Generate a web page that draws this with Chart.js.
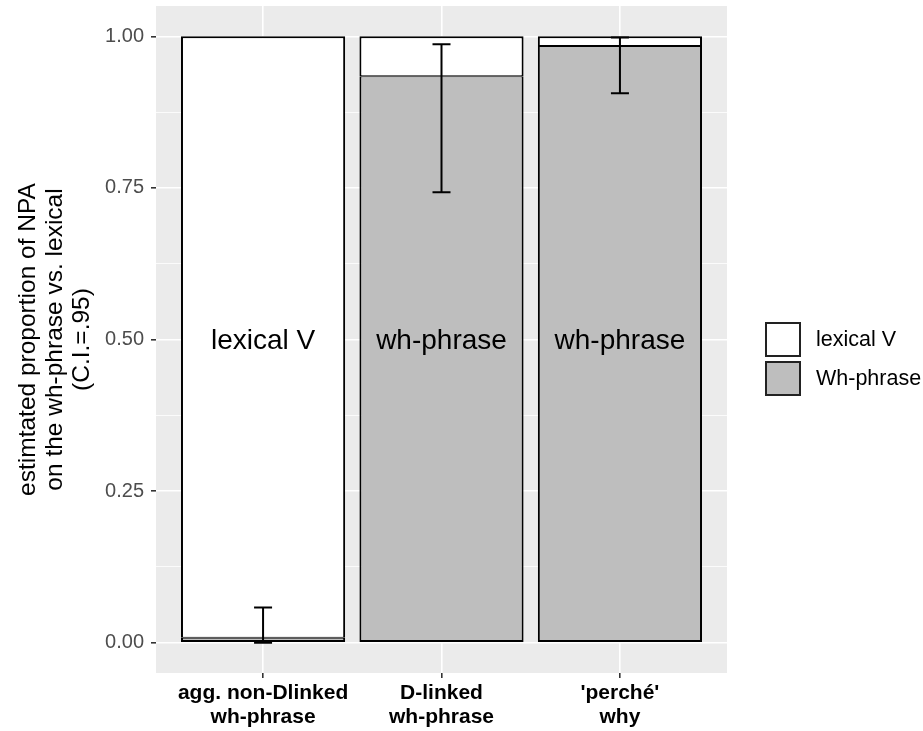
<!DOCTYPE html>
<html>
<head>
<meta charset="utf-8">
<script src="https://cdn.jsdelivr.net/npm/chart.js@4"></script>
<style>
  html, body { margin: 0; padding: 0; background: #fff; }
</style>
</head>
<body>
<canvas id="mychart" width="923" height="731"></canvas>
<script>
'use strict';

// categories on the x axis (multi-line labels)
const categories = [['agg. non-Dlinked', 'wh-phrase'], ['D-linked', 'wh-phrase'], ["'perché'", 'why']];
// estimated proportions, stacked
const whPhrase = [0.008, 0.934, 0.984];
const lexicalV = [0.992, 0.066, 0.016];
// confidence intervals of the wh-phrase proportion
const ciLow = [0.0, 0.743, 0.906];
const ciHigh = [0.058, 0.987, 0.998];
// text written in the middle of each bar
const barText = ['lexical V', 'wh-phrase', 'wh-phrase'];
// y ticks
const yMajor = [0, 0.25, 0.5, 0.75, 1];
const yMajorLabels = ['0.00', '0.25', '0.50', '0.75', '1.00'];
const yMinor = [0.125, 0.375, 0.625, 0.875];

const seriesNames = ['lexical V', 'Wh-phrase'];
const greyFill = '#bebebe';
const FONT = '"Liberation Sans", Arial, Helvetica, sans-serif';

const panelBg = {
    id: 'panelBg',
    beforeDraw(chart) {
        const a = chart.chartArea, ctx = chart.ctx;
        ctx.save();
        ctx.fillStyle = '#ebebeb';
        ctx.fillRect(a.left, a.top, a.right - a.left, a.bottom - a.top);
        ctx.restore();
    }
};

const extras = {
    id: 'extras',
    afterDatasetsDraw(chart) {
        const ctx = chart.ctx, xs = chart.scales.x, ys = chart.scales.y;
        ctx.save();
        // error bars
        ctx.strokeStyle = '#000';
        ctx.lineWidth = 2;
        categories.forEach((c, i) => {
            const x = xs.getPixelForValue(i + 1);
            const y0 = ys.getPixelForValue(ciLow[i]);
            const y1 = ys.getPixelForValue(ciHigh[i]);
            ctx.beginPath();
            ctx.moveTo(x, y0); ctx.lineTo(x, y1);
            ctx.moveTo(x - 9, y0); ctx.lineTo(x + 9, y0);
            ctx.moveTo(x - 9, y1); ctx.lineTo(x + 9, y1);
            ctx.stroke();
        });
        // bar text
        ctx.fillStyle = '#000';
        ctx.font = '28px ' + FONT;
        ctx.textAlign = 'center';
        ctx.textBaseline = 'middle';
        barText.forEach((t, i) => {
            ctx.fillText(t, xs.getPixelForValue(i + 1), ys.getPixelForValue(0.5) + 2);
        });
        // legend
        const lx = chart.chartArea.right + 38;
        const keys = [{ fill: '#fff', label: seriesNames[0] }, { fill: greyFill, label: seriesNames[1] }];
        ctx.textAlign = 'left';
        ctx.font = '21.5px ' + FONT;
        keys.forEach((k, i) => {
            const top = 322 + i * 39;
            ctx.fillStyle = k.fill;
            ctx.fillRect(lx, top, 36, 35);
            ctx.strokeStyle = '#222';
            ctx.lineWidth = 2;
            ctx.strokeRect(lx + 1, top + 1, 34, 33);
            ctx.fillStyle = '#000';
            ctx.fillText(k.label, lx + 51, top + 18);
        });
        ctx.restore();
    }
};

const $canvas = document.getElementById('mychart');
const graph = new Chart($canvas, {
    type: 'bar',
    data: {
        datasets: [{
            label: seriesNames[1],
            data: whPhrase.map((v, i) => ({ x: i + 1, y: v })),
            backgroundColor: greyFill,
            borderColor: '#000',
            borderWidth: { top: 1, bottom: 2, left: 2, right: 2 },
            borderSkipped: false,
        }, {
            label: seriesNames[0],
            data: lexicalV.map((v, i) => ({ x: i + 1, y: v })),
            backgroundColor: '#fff',
            borderColor: '#000',
            borderWidth: { top: 2, bottom: 1, left: 2, right: 2 },
            borderSkipped: false,
        }],
    },
    options: {
        responsive: false,
        animation: false,
        events: [],
        categoryPercentage: 0.92,
        barPercentage: 1,
        layout: { padding: { left: 0, right: 196, top: 6, bottom: 0 } },
        plugins: { legend: { display: false }, tooltip: { enabled: false } },
        scales: {
            x: {
                type: 'linear',
                stacked: true,
                offset: false,
                min: 0.4,
                max: 3.6,
                afterBuildTicks(scale) {
                    scale.ticks = categories.map((c, i) => ({ value: i + 1 }));
                },
                afterFit(scale) {
                    scale.height = 58;
                    scale.paddingLeft = 0;
                    scale.paddingRight = 0;
                },
                border: { display: false },
                grid: { offset: false, color: '#fff', lineWidth: 1.6, tickColor: '#333', tickLength: 5, tickWidth: 1.6 },
                ticks: {
                    autoSkip: false,
                    maxRotation: 0,
                    padding: 3,
                    color: '#000',
                    font: { family: FONT, size: 21, weight: 'bold', lineHeight: 1.15 },
                    callback: (v) => categories[v - 1],
                },
            },
            y: {
                stacked: true,
                min: -0.05,
                max: 1.05,
                afterBuildTicks(scale) {
                    scale.ticks = yMajor.concat(yMinor).sort((a, b) => a - b).map(v => ({ value: v }));
                },
                afterFit(scale) {
                    scale.width = 156;
                    scale.paddingTop = 0;
                    scale.paddingBottom = 0;
                },
                border: { display: false },
                grid: {
                    color: '#fff',
                    lineWidth: (c) => yMajor.includes(c.tick.value) ? 1.6 : 0.8,
                    tickColor: (c) => yMajor.includes(c.tick.value) ? '#333' : 'rgba(0,0,0,0)',
                    tickLength: 5,
                    tickWidth: 1.6,
                },
                ticks: {
                    autoSkip: false,
                    padding: 7,
                    color: '#4d4d4d',
                    font: { family: FONT, size: 20 },
                    callback: (v) => {
                        const k = yMajor.indexOf(v);
                        return k >= 0 ? yMajorLabels[k] : '';
                    },
                },
                title: {
                    display: true,
                    text: ['estimtated proportion of NPA', 'on the wh-phrase vs. lexical', '(C.I.=.95)'],
                    color: '#000',
                    font: { family: FONT, size: 24.5, lineHeight: 1.1 },
                    padding: { top: 15, bottom: 0 },
                },
            },
        },
    },
    plugins: [panelBg, extras],
});
</script>
</body>
</html>
